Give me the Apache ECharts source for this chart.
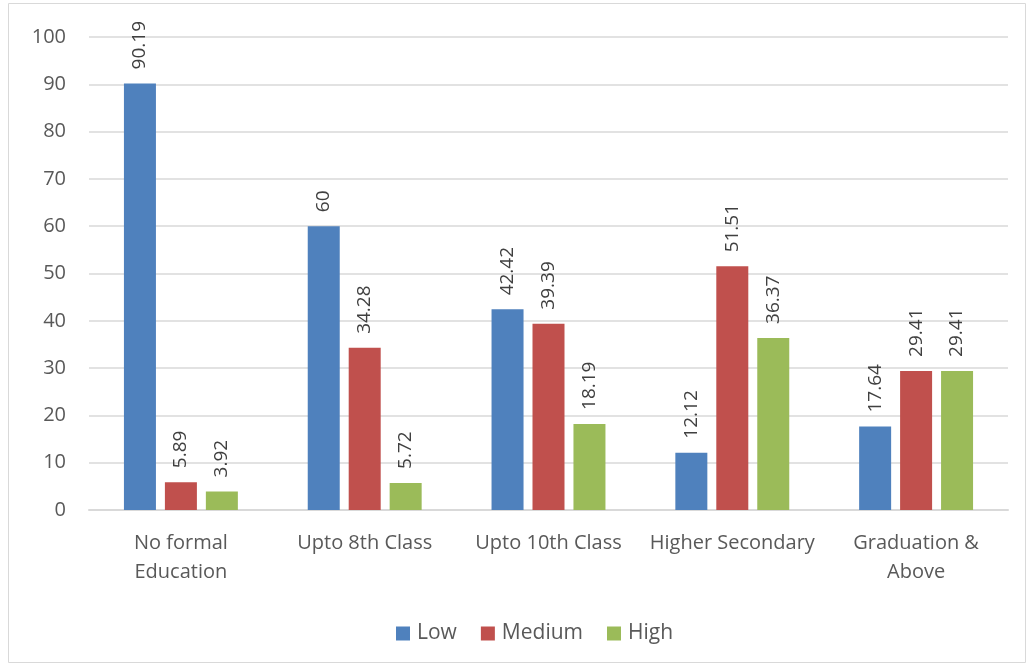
<!DOCTYPE html>
<html>
<head>
<meta charset="utf-8">
<script src="https://cdn.jsdelivr.net/npm/echarts@6/dist/echarts.min.js"></script>
<style>
  html, body { margin: 0; padding: 0; background: #fff; }
  #chart { width: 1030px; height: 667px; }
</style>
</head>
<body>
<div id="chart"></div>
<script>
// education levels on the x axis
const categories = ['No formal\nEducation', 'Upto 8th Class', 'Upto 10th Class', 'Higher Secondary', 'Graduation &\nAbove'];
const lowValues = [90.19, 60, 42.42, 12.12, 17.64];
const mediumValues = [5.89, 34.28, 39.39, 51.51, 29.41];
const highValues = [3.92, 5.72, 18.19, 36.37, 29.41];
const seriesNames = ['Low', 'Medium', 'High'];
const colors = ['#4f81bd', '#c0504d', '#9bbb59'];

const font = '"Open Sans", "Noto Sans", sans-serif';

const chart = echarts.init(document.getElementById('chart'));

const barLabel = {
    show: true,
    position: 'top',
    rotate: 90,
    align: 'left',
    verticalAlign: 'middle',
    distance: 14,
    color: '#404040',
    fontSize: 19,
    fontFamily: font
};

const mkSeries = (name, data, i) => ({
    name: name,
    type: 'bar',
    data: data,
    barWidth: 32,
    barGap: '28%',
    itemStyle: { color: colors[i] },
    label: barLabel
});

chart.setOption({
    animation: false,
    textStyle: { fontFamily: font },
    graphic: [{
        type: 'rect',
        shape: { x: 8.5, y: 3.5, width: 1017, height: 659 },
        style: { fill: 'none', stroke: '#d9d9d9', lineWidth: 1 },
        silent: true
    }],
    grid: { left: 89, right: 22, top: 37, bottom: 157 },
    legend: {
        top: 618,
        left: 391,
        itemWidth: 14,
        itemHeight: 14,
        itemGap: 24,
        icon: 'rect',
        textStyle: { color: '#595959', fontSize: 21, fontFamily: font, padding: [0, 0, 0, 2] },
        data: seriesNames
    },
    xAxis: {
        type: 'category',
        data: categories,
        axisLine: { lineStyle: { color: '#d9d9d9', width: 2 } },
        axisTick: { show: false },
        axisLabel: { interval: 0, color: '#595959', fontSize: 20, margin: 19, lineHeight: 29, fontFamily: font }
    },
    yAxis: {
        type: 'value',
        min: 0,
        max: 100,
        interval: 10,
        axisLine: { show: false },
        axisTick: { show: false },
        splitLine: { lineStyle: { color: '#d9d9d9', width: 1.5 } },
        axisLabel: { color: '#595959', fontSize: 20, margin: 23, fontFamily: font }
    },
    series: [
        mkSeries(seriesNames[0], lowValues, 0),
        mkSeries(seriesNames[1], mediumValues, 1),
        mkSeries(seriesNames[2], highValues, 2)
    ]
});
</script>
</body>
</html>
